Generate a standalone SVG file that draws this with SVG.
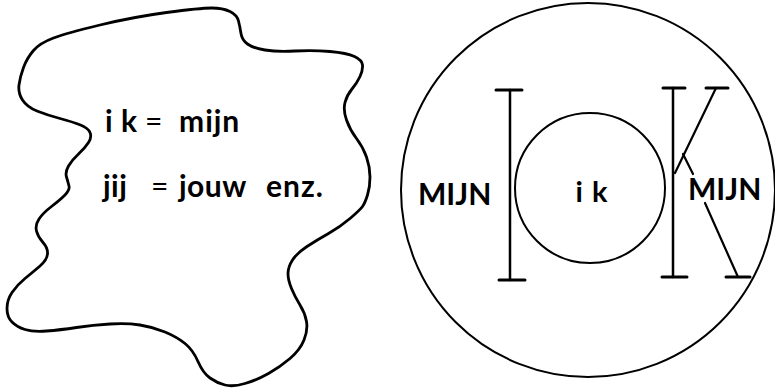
<svg xmlns="http://www.w3.org/2000/svg" width="775" height="390" viewBox="0 0 775 390">
<style>
.ln{fill:none;stroke:#000;stroke-linecap:round;stroke-linejoin:round}
.t{font-family:Lato,"Open Sans","Liberation Sans",sans-serif;font-weight:bold;fill:#000}
</style>
<rect width="775" height="390" fill="#fff"/>
<g id="blob">
<path class="ln" stroke-width="2.8" d="M53.5,38 Q67,33 100,25 Q133,17 166.5,12.5 Q200,8 211.5,8 Q223,8 230,11.5 Q237,15 238.5,21 Q240,27 241,33.5 Q242,40 247.5,44 Q253,48 265,50 Q277,52 295,51 Q313,50 330,51.5 Q347,53 354.5,56.5 Q362,60 362.5,65 Q363,70 360,76.5 Q357,83 352,89 Q347,95 345,102.5 Q343,110 346.5,120 Q350,130 356.5,138.5 Q363,147 366.5,157 Q370,167 370,177 Q370,187 367.5,195 Q365,203 362.5,206.5 Q360,210 350,218.5 Q340,227 328.5,233.5 Q317,240 307,246.5 Q297,253 292.5,260 Q288,267 288,273.5 Q288,280 291.5,288.5 Q295,297 300,305 Q305,313 306.5,321.5 Q308,330 304,340 Q300,350 290,358.5 Q280,367 268.5,373.5 Q257,380 245,383.5 Q233,387 225,385 Q217,383 210,378 Q203,373 198,361.5 Q193,350 185,343.5 Q177,337 165,332 Q153,327 140,325 Q127,323 110,324 Q93,325 76.5,327.5 Q60,330 46.5,331 Q33,332 25,329.5 Q17,327 12,322 Q7,317 7,308.5 Q7,300 12,292.5 Q17,285 25,278.5 Q33,272 40,266 Q47,260 47.5,254 Q48,248 43,242.5 Q38,237 36.5,231 Q35,225 39,219 Q43,213 51.5,206.5 Q60,200 65,195 Q70,190 69,186 Q68,182 66.5,177 Q65,172 68.5,166 Q72,160 78.5,154 Q85,148 88.5,142.5 Q92,137 90,132.5 Q88,128 80.5,125 Q73,122 60,118.5 Q47,115 37,111 Q27,107 22.5,100 Q18,93 19,85 Q20,77 23.5,67.5 Q27,58 33.5,50.5 Q40,43 53.5,38 Z"/>
<g font-size="30" class="t">
<text x="105" y="132">i</text>
<text x="121" y="132">k</text>
<text x="145" y="132" font-weight="normal">=</text>
<text x="179" y="132" letter-spacing="1">mijn</text>
<text x="103" y="197" letter-spacing="0.5">jij</text>
<text x="151" y="197" font-weight="normal">=</text>
<text x="179" y="197" letter-spacing="0.5">jouw</text>
<text x="266" y="197" letter-spacing="1">enz.</text>
</g>
</g>
<g id="outer-circle">
<circle class="ln" cx="588" cy="190" r="187" stroke-width="2"/>
</g>
<g id="inner-circle">
<circle class="ln" cx="590" cy="188" r="75" stroke-width="2"/>
<text class="t" x="592" y="202" font-size="29" text-anchor="middle" letter-spacing="1">i k</text>
</g>
<g id="letter-I">
<line class="ln" x1="510" y1="90" x2="510" y2="280" stroke-width="2.5"/>
<line class="ln" x1="496" y1="90" x2="522" y2="90" stroke-width="3"/>
<line class="ln" x1="499" y1="280" x2="525" y2="280" stroke-width="3"/>
</g>
<g id="letter-K">
<line class="ln" x1="673" y1="88" x2="673" y2="277" stroke-width="2.5"/>
<line class="ln" x1="663" y1="88" x2="685" y2="88" stroke-width="3"/>
<line class="ln" x1="662" y1="277" x2="687" y2="277" stroke-width="3"/>
<line class="ln" x1="675" y1="173" x2="716" y2="88" stroke-width="2.2"/>
<line class="ln" x1="706" y1="88" x2="728" y2="88" stroke-width="3"/>
<line class="ln" x1="683" y1="154" x2="693" y2="174" stroke-width="2.2"/>
<line class="ln" x1="705" y1="203" x2="738" y2="277" stroke-width="2.2"/>
<line class="ln" x1="726" y1="277" x2="750" y2="277" stroke-width="3"/>
</g>
<g id="mijn-left">
<text class="t" x="418" y="205" font-size="30">MIJN</text>
</g>
<g id="mijn-right">
<text class="t" x="688" y="200" font-size="30">MIJN</text>
</g>
</svg>
